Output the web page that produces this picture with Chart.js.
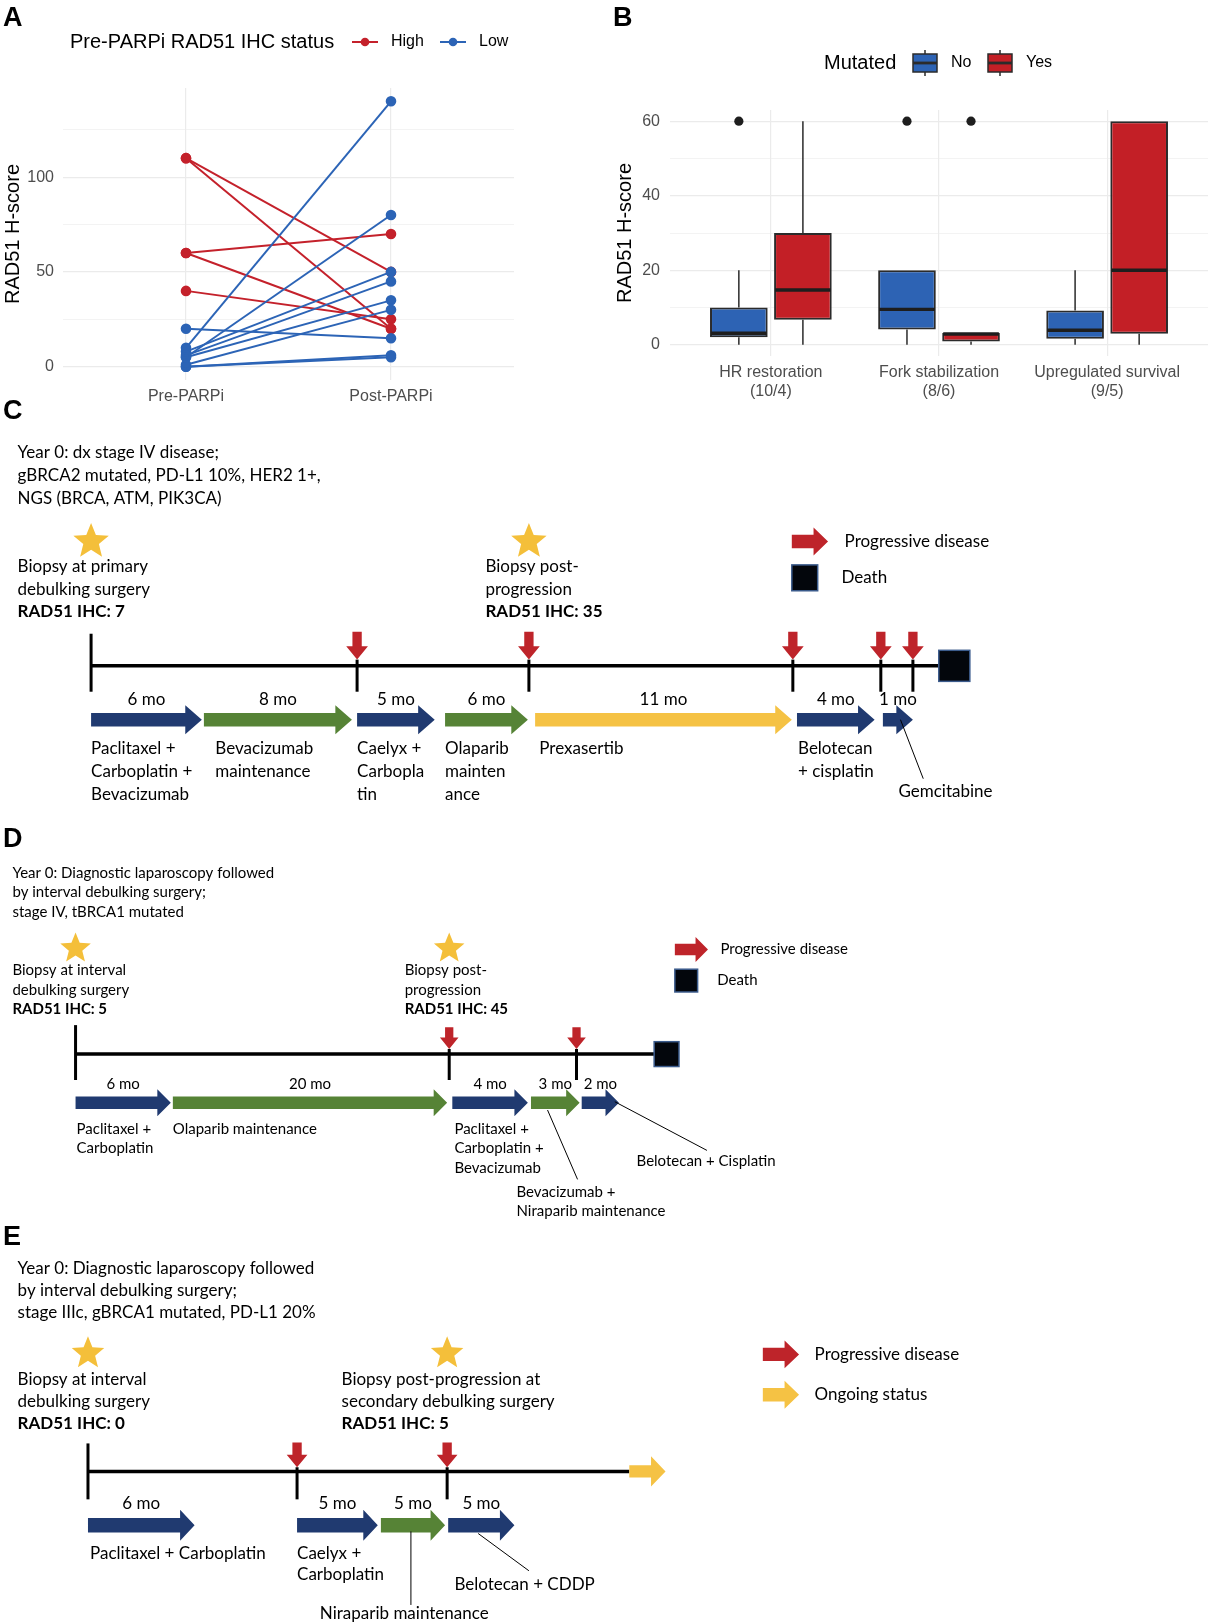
<!DOCTYPE html>
<html>
<head>
<meta charset="utf-8">
<title>RAD51 H-score and treatment timelines</title>
<script src="https://cdn.jsdelivr.net/npm/chart.js@4.4.1/dist/chart.umd.min.js"></script>
<style>
  html, body { margin: 0; padding: 0; background: #fff; }
  body { position: relative; width: 1211px; height: 1624px; overflow: hidden; }
  .panel { position: absolute; }
</style>
</head>
<body>
<div class="panel" style="left:0;top:0;width:595px;height:410px"><canvas id="chartA"></canvas></div>
<div class="panel" style="left:595px;top:0;width:616px;height:410px"><canvas id="chartB"></canvas></div>
<div class="panel" style="left:0;top:390px;width:1211px;height:1234px"><canvas id="chartT"></canvas></div>
<script>
// ---------- Panel A: paired H-scores ----------
var aCategories = ['Pre-PARPi', 'Post-PARPi'];
var aStatus = ['High', 'Low'];
var aHighPre = [110, 110, 60, 60, 40];
var aHighPost = [50, 20, 70, 20, 25];
var aLowPre = [20, 10, 8, 6, 5, 5, 1, 0, 0];
var aLowPost = [15, 140, 50, 45, 80, 35, 30, 5, 6];
var aTicks = [0, 50, 100];
var aGrid = [0, 25, 50, 75, 100, 125];

// ---------- Panel B: boxplots ----------
var bCategories = [['HR restoration', '(10/4)'], ['Fork stabilization', '(8/6)'], ['Upregulated survival', '(9/5)']];
var bGroups = ['No', 'Yes'];
var noLow = [0, 0, 0];
var noQ1 = [2, 4.1, 1.6];
var noMed = [3.1, 9.5, 3.9];
var noQ3 = [10, 20, 9.2];
var noHigh = [20, 20, 20];
var noOutliers = [[60], [60], []];
var yesLow = [0, 0, 0];
var yesQ1 = [6.7, 0.9, 3];
var yesMed = [14.7, 2.9, 20];
var yesQ3 = [30, 3.2, 60];
var yesHigh = [60, 3.2, 60];
var yesOutliers = [[], [60], []];
var bTicks = [0, 20, 40, 60];
var bGrid = [0, 10, 20, 30, 40, 50, 60];

// ---------- Panels C-E: timelines (schematic timeline units) ----------
var cIntro = ['Year 0: dx stage IV disease;', 'gBRCA2 mutated, PD-L1 10%, HER2 1+,', 'NGS (BRCA, ATM, PIK3CA)'];
var cBiopsyAt = [88, 511];
var cBiopsyText = [['Biopsy at primary', 'debulking surgery'], ['Biopsy post-', 'progression']];
var cBiopsyIhc = ['RAD51 IHC: 7', 'RAD51 IHC: 35'];
var cLegend = ['Progressive disease', 'Death'];
var cMonths = ['6 mo', '8 mo', '5 mo', '6 mo', '11 mo', '4 mo', '1 mo'];
var cDrugs = [['Paclitaxel +', 'Carboplatin +', 'Bevacizumab'], ['Bevacizumab', 'maintenance'], ['Caelyx +', 'Carbopla', 'tin'],
              ['Olaparib', 'mainten', 'ance'], ['Prexasertib'], ['Belotecan', '+ cisplatin'], ['Gemcitabine']];
var cKind = ['chemo', 'maint', 'chemo', 'maint', 'trial', 'chemo', 'chemo'];
var cStart = [88, 197, 345, 430, 517, 770, 853];
var cEnd = [195, 340, 420, 510, 765, 845, 882];
var cProgression = [345, 511, 766, 851, 882];

var dIntro = ['Year 0: Diagnostic laparoscopy followed', 'by interval debulking surgery;', 'stage IV, tBRCA1 mutated'];
var dBiopsyAt = [73, 434];
var dBiopsyText = [['Biopsy at interval', 'debulking surgery'], ['Biopsy post-', 'progression']];
var dBiopsyIhc = ['RAD51 IHC: 5', 'RAD51 IHC: 45'];
var dLegend = ['Progressive disease', 'Death'];
var dMonths = ['6 mo', '20 mo', '4 mo', '3 mo', '2 mo'];
var dDrugs = [['Paclitaxel +', 'Carboplatin'], ['Olaparib maintenance'], ['Paclitaxel +', 'Carboplatin +', 'Bevacizumab'],
              ['Bevacizumab +', 'Niraparib maintenance'], ['Belotecan + Cisplatin']];
var dKind = ['chemo', 'maint', 'chemo', 'maint', 'chemo'];
var dStart = [73, 167, 437, 513, 562];
var dEnd = [165, 432, 510, 560, 598];
var dProgression = [434, 557];

var eIntro = ['Year 0: Diagnostic laparoscopy followed', 'by interval debulking surgery;', 'stage IIIc, gBRCA1 mutated, PD-L1 20%'];
var eBiopsyAt = [85, 432];
var eBiopsyText = [['Biopsy at interval', 'debulking surgery'], ['Biopsy post-progression at', 'secondary debulking surgery']];
var eBiopsyIhc = ['RAD51 IHC: 0', 'RAD51 IHC: 5'];
var eLegend = ['Progressive disease', 'Ongoing status'];
var eMonths = ['6 mo', '5 mo', '5 mo', '5 mo'];
var eDrugs = [['Paclitaxel + Carboplatin'], ['Caelyx +', 'Carboplatin'], ['Niraparib maintenance'], ['Belotecan + CDDP']];
var eKind = ['chemo', 'chemo', 'maint', 'chemo'];
var eStart = [85, 287, 368, 433];
var eEnd = [188, 365, 430, 497];
var eProgression = [287, 432];

// ---------- shared style ----------
var FONT = "'Liberation Sans', Arial, sans-serif";
var T_FONT = "Lato, 'Open Sans', sans-serif";
var RED = '#C4212B', BLUE = '#2C64B6';
var BOX_BLUE = '#2D63B4', BOX_RED = '#C31F26';
var GRID = '#EBEBEB', TICK = '#4D4D4D';
var KIND_COLOR = { chemo: '#203A70', maint: '#568336', trial: '#F5C244' };
var PD_RED = '#BE242A', STAR_GOLD = '#F4BF3A', ONGOING = '#F5C244';

Chart.defaults.font.family = FONT;

// ================= Panel A =================
function pairLines(pre, post, color) {
  return pre.map(function (v, i) {
    return {
      data: [{ x: 0, y: v }, { x: 1, y: post[i] }],
      showLine: true,
      borderColor: color,
      backgroundColor: color,
      borderWidth: 2,
      pointRadius: 4.3,
      pointHoverRadius: 4.3
    };
  });
}

var legendA = {
  id: 'legendA',
  afterDraw: function (chart) {
    var ctx = chart.ctx;
    ctx.save();
    ctx.fillStyle = '#000';
    ctx.font = 'bold 27px ' + FONT;
    ctx.textBaseline = 'alphabetic';
    ctx.fillText('A', 3, 26);
    ctx.font = '20px ' + FONT;
    ctx.textBaseline = 'middle';
    ctx.fillText('Pre-PARPi RAD51 IHC status', 70, 42);
    var keys = [[352, RED], [440, BLUE]];
    keys.forEach(function (k, i) {
      ctx.strokeStyle = k[1];
      ctx.fillStyle = k[1];
      ctx.lineWidth = 2;
      ctx.beginPath();
      ctx.moveTo(k[0], 42);
      ctx.lineTo(k[0] + 26, 42);
      ctx.stroke();
      ctx.beginPath();
      ctx.arc(k[0] + 13, 42, 4.3, 0, Math.PI * 2);
      ctx.fill();
      ctx.fillStyle = '#000';
      ctx.font = '16px ' + FONT;
      ctx.fillText(aStatus[i], k[0] + 39, 42);
    });
    ctx.restore();
  }
};

new Chart(document.getElementById('chartA'), {
  type: 'scatter',
  data: { datasets: pairLines(aLowPre, aLowPost, BLUE).concat(pairLines(aHighPre, aHighPost, RED)) },
  options: {
    responsive: true,
    maintainAspectRatio: false,
    animation: false,
    layout: { padding: { top: 88, right: 81, left: 0, bottom: 0 } },
    plugins: { legend: { display: false }, tooltip: { enabled: false } },
    scales: {
      x: {
        type: 'linear', min: -0.6, max: 1.6,
        afterBuildTicks: function (s) { s.ticks = aCategories.map(function (c, i) { return { value: i }; }); },
        afterFit: function (s) { s.height = 30; },
        ticks: { callback: function (v) { return aCategories[v]; }, color: TICK, font: { size: 16 }, padding: 7, maxRotation: 0, autoSkip: false },
        grid: { color: GRID, lineWidth: 1.2, drawTicks: false },
        border: { display: false }
      },
      y: {
        min: -7, max: 147,
        afterBuildTicks: function (s) { s.ticks = aGrid.map(function (v) { return { value: v }; }); },
        afterFit: function (s) { s.width = 63; },
        ticks: { callback: function (v) { return aTicks.indexOf(v) >= 0 ? v : ''; }, color: TICK, font: { size: 16 }, padding: 9 },
        grid: { color: GRID, lineWidth: function (c) { return aTicks.indexOf(c.tick.value) >= 0 ? 1.2 : 0.6; }, drawTicks: false },
        border: { display: false },
        title: { display: true, text: 'RAD51 H-score', color: '#000', font: { size: 20 }, padding: 1 }
      }
    }
  },
  plugins: [legendA]
});

// ================= Panel B =================
var boxStats = [
  { low: noLow, q1: noQ1, med: noMed, q3: noQ3, high: noHigh, out: noOutliers },
  { low: yesLow, q1: yesQ1, med: yesMed, q3: yesQ3, high: yesHigh, out: yesOutliers }
];

function boxData(q1, q3) {
  return q1.map(function (v, i) { return { x: i, y: [v, q3[i]] }; });
}

function boxKey(ctx, x, y, w, h, fill) {
  ctx.strokeStyle = '#2B2B2B';
  ctx.lineWidth = 1.5;
  ctx.beginPath();
  ctx.moveTo(x + w / 2, y - 4);
  ctx.lineTo(x + w / 2, y + h + 4);
  ctx.stroke();
  ctx.fillStyle = fill;
  ctx.fillRect(x, y, w, h);
  ctx.strokeRect(x, y, w, h);
  ctx.lineWidth = 2.8;
  ctx.beginPath();
  ctx.moveTo(x, y + h / 2);
  ctx.lineTo(x + w, y + h / 2);
  ctx.stroke();
}

var boxesB = {
  id: 'boxesB',
  beforeDatasetsDraw: function (chart) {
    var ctx = chart.ctx, y = chart.scales.y;
    ctx.save();
    ctx.strokeStyle = '#2B2B2B';
    ctx.lineWidth = 1.5;
    boxStats.forEach(function (s, d) {
      chart.getDatasetMeta(d).data.forEach(function (bar, i) {
        ctx.beginPath();
        ctx.moveTo(bar.x, y.getPixelForValue(s.high[i]));
        ctx.lineTo(bar.x, y.getPixelForValue(s.q3[i]));
        ctx.moveTo(bar.x, y.getPixelForValue(s.q1[i]));
        ctx.lineTo(bar.x, y.getPixelForValue(s.low[i]));
        ctx.stroke();
      });
    });
    ctx.restore();
  },
  afterDatasetsDraw: function (chart) {
    var ctx = chart.ctx, y = chart.scales.y;
    ctx.save();
    boxStats.forEach(function (s, d) {
      chart.getDatasetMeta(d).data.forEach(function (bar, i) {
        var w = bar.width;
        ctx.strokeStyle = '#1E1E1E';
        ctx.lineWidth = 3.4;
        ctx.beginPath();
        ctx.moveTo(bar.x - w / 2 + 1, y.getPixelForValue(s.med[i]));
        ctx.lineTo(bar.x + w / 2 - 1, y.getPixelForValue(s.med[i]));
        ctx.stroke();
        ctx.fillStyle = '#1E1E1E';
        s.out[i].forEach(function (v) {
          ctx.beginPath();
          ctx.arc(bar.x, y.getPixelForValue(v), 4.6, 0, Math.PI * 2);
          ctx.fill();
        });
      });
    });
    ctx.restore();
  },
  afterDraw: function (chart) {
    var ctx = chart.ctx;
    ctx.save();
    ctx.fillStyle = '#000';
    ctx.font = 'bold 27px ' + FONT;
    ctx.textBaseline = 'alphabetic';
    ctx.fillText('B', 18, 26);
    ctx.font = '20px ' + FONT;
    ctx.textBaseline = 'middle';
    ctx.fillText('Mutated', 229, 63);
    boxKey(ctx, 318, 54, 24, 18, BOX_BLUE);
    boxKey(ctx, 393, 54, 24, 18, BOX_RED);
    ctx.fillStyle = '#000';
    ctx.font = '16px ' + FONT;
    ctx.fillText(bGroups[0], 356, 63);
    ctx.fillText(bGroups[1], 431, 63);
    ctx.restore();
  }
};

new Chart(document.getElementById('chartB'), {
  type: 'bar',
  data: {
    datasets: [
      { label: bGroups[0], data: boxData(noQ1, noQ3), backgroundColor: BOX_BLUE, borderColor: '#2B2B2B',
        borderWidth: 2, borderSkipped: false, categoryPercentage: 0.762, barPercentage: 0.9 },
      { label: bGroups[1], data: boxData(yesQ1, yesQ3), backgroundColor: BOX_RED, borderColor: '#2B2B2B',
        borderWidth: 2, borderSkipped: false, categoryPercentage: 0.762, barPercentage: 0.9 }
    ]
  },
  options: {
    responsive: true,
    maintainAspectRatio: false,
    animation: false,
    layout: { padding: { top: 110, right: 3, left: 0, bottom: 0 } },
    plugins: { legend: { display: false }, tooltip: { enabled: false } },
    scales: {
      x: {
        type: 'linear', min: -0.6, max: 2.6, offset: false,
        afterBuildTicks: function (s) { s.ticks = bCategories.map(function (c, i) { return { value: i }; }); },
        afterFit: function (s) { s.height = 54; },
        ticks: { callback: function (v) { return bCategories[v]; }, color: TICK, font: { size: 16 }, padding: 7, maxRotation: 0, autoSkip: false },
        grid: { color: GRID, lineWidth: 1.2, drawTicks: false, offset: false },
        border: { display: false }
      },
      y: {
        min: -3, max: 63,
        afterBuildTicks: function (s) { s.ticks = bGrid.map(function (v) { return { value: v }; }); },
        afterFit: function (s) { s.width = 75; },
        ticks: { callback: function (v) { return bTicks.indexOf(v) >= 0 ? v : ''; }, color: TICK, font: { size: 16 }, padding: 10 },
        grid: { color: GRID, lineWidth: function (c) { return bTicks.indexOf(c.tick.value) >= 0 ? 1.2 : 0.6; }, drawTicks: false },
        border: { display: false },
        title: { display: true, text: 'RAD51 H-score', color: '#000', font: { size: 20 }, padding: 18 }
      }
    }
  },
  plugins: [boxesB]
});

// ================= Panels C-E =================
var panels = [
  { letter: 'C', letterY: 405, fs: 17, step: 22,
    intro: cIntro, introX: 17, introY: 437,
    biopsyAt: cBiopsyAt, biopsyText: cBiopsyText, biopsyIhc: cBiopsyIhc, biopsyX: [17, 469], biopsyY: 547, starY: 523, starR: 18,
    legend: cLegend, legendMark: ['pd', 'death'], legendX: 765, legendY: [523, 558], legendTx: [816, 813],
    lg: { len: 35, sh: 6.5, hh: 13.5, hl: 14, sq: 25 },
    axisY: 643, axisFrom: 88, axisTo: 907, tickTop: 612, tickBottom: 668, ending: 'death', endSize: 30,
    progression: cProgression, pd: { top: 33, tip: 6, sw: 4.5, hw: 10.5, hl: 13 },
    starts: cStart, ends: cEnd, months: cMonths, drugs: cDrugs, kind: cKind,
    arrowY: 695, shaft: 6.5, head: 14, headLen: 16, monthY: 676,
    labelX: [88, 208, 345, 430, 521, 771, null], labelY: 723, labelStep: 22,
    leaders: [{ seg: 6, from: [870, 695], to: [892, 752], textX: 868, textY: 764 }] },
  { letter: 'D', letterY: 818, fs: 15, step: 19,
    intro: dIntro, introX: 12, introY: 843,
    biopsyAt: dBiopsyAt, biopsyText: dBiopsyText, biopsyIhc: dBiopsyIhc, biopsyX: [12, 391], biopsyY: 937, starY: 916, starR: 15.5,
    legend: dLegend, legendMark: ['pd', 'death'], legendX: 652, legendY: [917, 947], legendTx: [696, 693],
    lg: { len: 32, sh: 5.5, hh: 12, hl: 12, sq: 22 },
    axisY: 1018, axisFrom: 73, axisTo: 632, tickTop: 990, tickBottom: 1043, ending: 'death', endSize: 24,
    progression: dProgression, pd: { top: 26, tip: 5, sw: 4, hw: 9, hl: 11 },
    starts: dStart, ends: dEnd, months: dMonths, drugs: dDrugs, kind: dKind,
    arrowY: 1065, shaft: 6, head: 13, headLen: 13, monthY: 1047,
    labelX: [74, 167, 439, null, null], labelY: 1090, labelStep: 19,
    leaders: [{ seg: 3, from: [529, 1072], to: [558, 1139], textX: 499, textY: 1151 },
              { seg: 4, from: [594, 1064], to: [683, 1111], textX: 615, textY: 1121 }] },
  { letter: 'E', letterY: 1202, fs: 17, step: 21.5,
    intro: eIntro, introX: 17, introY: 1225,
    biopsyAt: eBiopsyAt, biopsyText: eBiopsyText, biopsyIhc: eBiopsyIhc, biopsyX: [17, 330], biopsyY: 1332, starY: 1307, starR: 16.5,
    legend: eLegend, legendMark: ['pd', 'ongoing'], legendX: 737, legendY: [1308, 1347], legendTx: [787, 787],
    lg: { len: 35, sh: 6.5, hh: 13.5, hl: 14, sq: 25 },
    axisY: 1421, axisFrom: 85, axisTo: 608, tickTop: 1394, tickBottom: 1448, ending: 'ongoing', endSize: 35,
    progression: eProgression, pd: { top: 28, tip: 4, sw: 4.5, hw: 10, hl: 12 },
    starts: eStart, ends: eEnd, months: eMonths, drugs: eDrugs, kind: eKind,
    arrowY: 1473, shaft: 7, head: 15, headLen: 14, monthY: 1452,
    labelX: [87, 287, null, null], labelY: 1500, labelStep: 21,
    leaders: [{ seg: 2, from: [397, 1479], to: [397, 1550], textX: 309, textY: 1558 },
              { seg: 3, from: [462, 1481], to: [511, 1517], textX: 439, textY: 1530 }] }
];

function rightArrow(ctx, x0, x1, yc, sh, hh, hl, color) {
  ctx.beginPath();
  ctx.moveTo(x0, yc - sh);
  ctx.lineTo(x1 - hl, yc - sh);
  ctx.lineTo(x1 - hl, yc - hh);
  ctx.lineTo(x1, yc);
  ctx.lineTo(x1 - hl, yc + hh);
  ctx.lineTo(x1 - hl, yc + sh);
  ctx.lineTo(x0, yc + sh);
  ctx.closePath();
  ctx.fillStyle = color;
  ctx.fill();
}

function downArrow(ctx, xc, y0, y1, sw, hw, hl, color) {
  ctx.beginPath();
  ctx.moveTo(xc - sw, y0);
  ctx.lineTo(xc + sw, y0);
  ctx.lineTo(xc + sw, y1 - hl);
  ctx.lineTo(xc + hw, y1 - hl);
  ctx.lineTo(xc, y1);
  ctx.lineTo(xc - hw, y1 - hl);
  ctx.lineTo(xc - sw, y1 - hl);
  ctx.closePath();
  ctx.fillStyle = color;
  ctx.fill();
}

function star(ctx, cx, cy, r, color) {
  ctx.beginPath();
  for (var i = 0; i < 10; i++) {
    var rad = i % 2 ? r * 0.44 : r;
    var a = -Math.PI / 2 + i * Math.PI / 5;
    ctx.lineTo(cx + rad * Math.cos(a), cy + rad * Math.sin(a));
  }
  ctx.closePath();
  ctx.fillStyle = color;
  ctx.fill();
}

function deathSquare(ctx, x, y, w, h) {
  ctx.fillStyle = '#03060C';
  ctx.fillRect(x, y, w, h);
  ctx.strokeStyle = '#3B5B8C';
  ctx.lineWidth = 1.5;
  ctx.strokeRect(x, y, w, h);
}

function drawPanel(chart, p) {
  var ctx = chart.ctx, xs = chart.scales.x, ys = chart.scales.y;
  var X = function (v) { return xs.getPixelForValue(v); };
  var Y = function (v) { return ys.getPixelForValue(v); };
  var k = X(1) - X(0);
  function write(str, x, y, bold) {
    ctx.font = (bold ? 'bold ' : '') + p.fs + 'px ' + T_FONT;
    ctx.fillStyle = '#000';
    ctx.textBaseline = 'middle';
    ctx.textAlign = 'left';
    ctx.fillText(str, X(x), Y(y));
  }

  // panel letter
  ctx.fillStyle = '#000';
  ctx.font = 'bold 27px ' + FONT;
  ctx.textBaseline = 'alphabetic';
  ctx.textAlign = 'left';
  ctx.fillText(p.letter, X(3), Y(p.letterY));

  // diagnosis text
  p.intro.forEach(function (s, i) { write(s, p.introX, p.introY + i * p.step); });

  // biopsies
  p.biopsyAt.forEach(function (t, i) {
    star(ctx, X(t), Y(p.starY), p.starR * k, STAR_GOLD);
    p.biopsyText[i].forEach(function (s, j) { write(s, p.biopsyX[i], p.biopsyY + j * p.step); });
    write(p.biopsyIhc[i], p.biopsyX[i], p.biopsyY + p.biopsyText[i].length * p.step, true);
  });

  // legend
  p.legend.forEach(function (s, i) {
    var lx = p.legendX, ly = p.legendY[i];
    if (p.legendMark[i] === 'death') {
      deathSquare(ctx, X(lx), Y(ly) - p.lg.sq * k / 2, p.lg.sq * k, p.lg.sq * k);
    } else {
      rightArrow(ctx, X(lx), X(lx + p.lg.len), Y(ly), p.lg.sh * k, p.lg.hh * k, p.lg.hl * k,
        p.legendMark[i] === 'pd' ? PD_RED : ONGOING);
    }
    write(s, p.legendTx[i], ly);
  });

  // time axis
  ctx.strokeStyle = '#000';
  ctx.lineWidth = 3.5;
  ctx.beginPath();
  ctx.moveTo(X(p.axisFrom), Y(p.axisY));
  ctx.lineTo(X(p.axisTo), Y(p.axisY));
  ctx.stroke();
  ctx.lineWidth = 3;
  ctx.beginPath();
  ctx.moveTo(X(p.axisFrom), Y(p.tickTop));
  ctx.lineTo(X(p.axisFrom), Y(p.tickBottom));
  ctx.stroke();

  // progression events
  p.progression.forEach(function (t) {
    ctx.strokeStyle = '#000';
    ctx.lineWidth = 3;
    ctx.beginPath();
    ctx.moveTo(X(t), Y(p.axisY - p.pd.tip));
    ctx.lineTo(X(t), Y(p.tickBottom));
    ctx.stroke();
    downArrow(ctx, X(t), Y(p.axisY - p.pd.top), Y(p.axisY - p.pd.tip), p.pd.sw * k, p.pd.hw * k, p.pd.hl * k, PD_RED);
  });

  // end of follow-up
  if (p.ending === 'death') {
    deathSquare(ctx, X(p.axisTo), Y(p.axisY) - p.endSize * k / 2, p.endSize * k, p.endSize * k);
  } else {
    rightArrow(ctx, X(p.axisTo), X(p.axisTo + p.endSize), Y(p.axisY), 6 * k, 14.5 * k, 14 * k, ONGOING);
  }

  // treatment lines
  p.starts.forEach(function (s0, i) {
    var s1 = p.ends[i];
    rightArrow(ctx, X(s0), X(s1), Y(p.arrowY), p.shaft * k, p.head * k, p.headLen * k, KIND_COLOR[p.kind[i]]);
    ctx.font = p.fs + 'px ' + T_FONT;
    ctx.fillStyle = '#000';
    ctx.textAlign = 'center';
    ctx.textBaseline = 'middle';
    ctx.fillText(p.months[i], X((s0 + s1) / 2), Y(p.monthY));
    if (p.labelX[i] !== null) {
      p.drugs[i].forEach(function (s, j) { write(s, p.labelX[i], p.labelY + j * p.labelStep); });
    }
  });

  // call-out labels
  p.leaders.forEach(function (l) {
    ctx.strokeStyle = '#000';
    ctx.lineWidth = 1;
    ctx.beginPath();
    ctx.moveTo(X(l.from[0]), Y(l.from[1]));
    ctx.lineTo(X(l.to[0]), Y(l.to[1]));
    ctx.stroke();
    p.drugs[l.seg].forEach(function (s, j) { write(s, l.textX, l.textY + j * p.labelStep); });
  });
}

var timelines = {
  id: 'timelines',
  afterDraw: function (chart) {
    var ctx = chart.ctx;
    ctx.save();
    panels.forEach(function (p) { drawPanel(chart, p); });
    ctx.restore();
  }
};

new Chart(document.getElementById('chartT'), {
  type: 'scatter',
  data: { datasets: [] },
  options: {
    responsive: true,
    maintainAspectRatio: false,
    animation: false,
    layout: { padding: 0 },
    plugins: { legend: { display: false }, tooltip: { enabled: false } },
    scales: {
      x: { type: 'linear', min: 0, max: 1170, display: false },
      y: { type: 'linear', min: 376.6, max: 1568.4, reverse: true, display: false }
    }
  },
  plugins: [timelines]
});
</script>
</body>
</html>
